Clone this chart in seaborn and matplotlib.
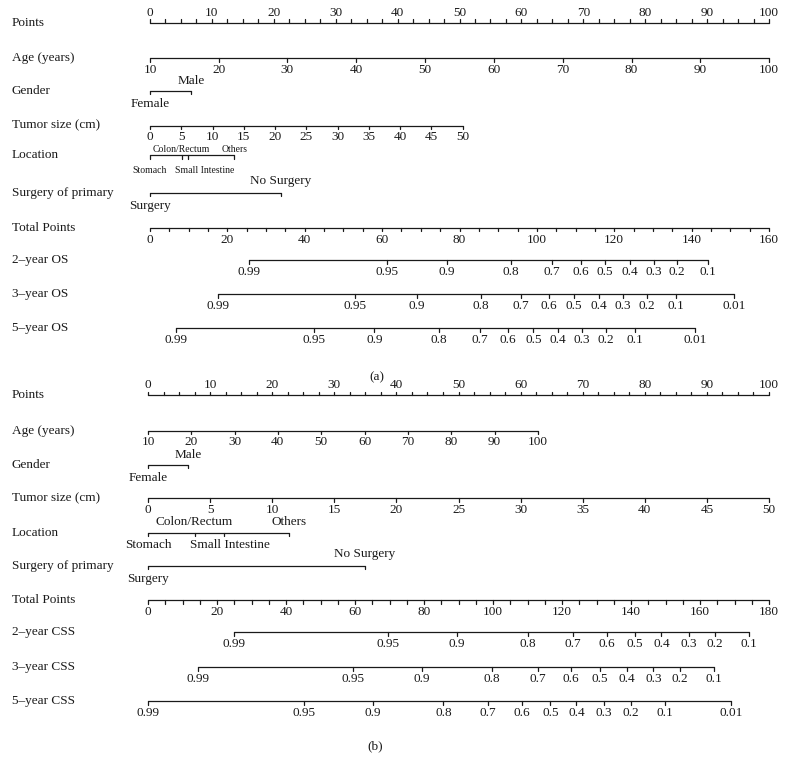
import matplotlib
matplotlib.use("Agg")
import matplotlib.pyplot as plt
import pandas as pd
import seaborn as sns

# ---- panel (a): overall survival ----
points_ticks = [0, 10, 20, 30, 40, 50, 60, 70, 80, 90, 100]
points_minor = [i * 2.5 for i in range(41)]

age_labels = [10, 20, 30, 40, 50, 60, 70, 80, 90, 100]
age_pts_a = [0, 11.1, 22.2, 33.3, 44.4, 55.6, 66.7, 77.8, 88.9, 100]
gender_labels = ["Female", "Male"]
gender_pts_a = [0, 6.6]
tumor_labels = [0, 5, 10, 15, 20, 25, 30, 35, 40, 45, 50]
tumor_pts_a = [0, 5.05, 10.1, 15.15, 20.2, 25.25, 30.3, 35.35, 40.4, 45.45, 50.5]
location_labels = ["Stomach", "Colon/Rectum", "Small Intestine", "Others"]
location_pts_a = [0, 5.1, 6.1, 13.6]
surgery_labels = ["Surgery", "No Surgery"]
surgery_pts_a = [0, 21.1]

total_ticks_a = [0, 20, 40, 60, 80, 100, 120, 140, 160]
total_max_a = 160

prob_10 = [0.99, 0.95, 0.9, 0.8, 0.7, 0.6, 0.5, 0.4, 0.3, 0.2, 0.1]
prob_01 = prob_10 + [0.01]
os2_total = [25.6, 61.2, 76.7, 93.2, 103.9, 111.3, 117.6, 124.0, 130.3, 136.2, 144.3]
os3_total = [17.6, 53.1, 68.9, 85.5, 95.8, 103.2, 109.5, 116.1, 122.2, 128.4, 135.9, 151.0]
os5_total = [6.8, 42.4, 58.0, 74.6, 85.3, 92.6, 99.1, 105.4, 111.7, 117.9, 125.3, 140.9]

# ---- panel (b): cancer-specific survival ----
age_pts_b = [0, 7.0, 14.0, 20.9, 27.9, 34.9, 41.9, 48.8, 55.8, 62.8]
gender_pts_b = [0, 6.5]
tumor_pts_b = [0, 10, 20, 30, 40, 50, 60, 70, 80, 90, 100]
location_pts_b = [0, 7.5, 12.2, 22.7]
surgery_pts_b = [0, 34.9]

total_ticks_b = [0, 20, 40, 60, 80, 100, 120, 140, 160, 180]
total_max_b = 180

css2_total = [24.8, 69.7, 89.6, 110.1, 123.1, 132.9, 141.1, 148.8, 156.7, 164.3, 174.2]
css3_total = [14.6, 59.5, 79.4, 99.8, 112.9, 122.6, 130.9, 138.7, 146.5, 154.1, 164.1]
css5_total = [0.1, 45.2, 65.2, 85.6, 98.5, 108.3, 116.6, 124.2, 132.2, 139.9, 149.9, 169.0]

sns.set_theme(style="white")
plt.rcParams["font.family"] = ["Liberation Serif", "DejaVu Serif"]

FS = 9.5
TICK = 3.5
INK = "#1a1a1a"

W, H = 786, 764
fig = plt.figure(figsize=(W / 100, H / 100), dpi=100)


def fmt(v):
    return str(v)


def add_seg(segs, x0, x1, y0, y1):
    uid = len(segs) // 2
    segs.append({"x": x0, "y": y0, "seg": uid})
    segs.append({"x": x1, "y": y1, "seg": uid})


def scale(ax, segs, y, pos, labels, where="below", tick="down", ticks=None,
          fs=FS, up=10.5, down=11.5, nudge=None):
    add_seg(segs, min(pos), max(pos), y, y)
    d = -TICK if tick == "up" else TICK
    for p in (ticks if ticks is not None else pos):
        add_seg(segs, p, p, y, y + d)
    for i, (p, lab) in enumerate(zip(pos, labels)):
        w = where[i] if isinstance(where, list) else where
        dy = -up if w == "above" else down
        dx = nudge[i] if nudge else 0
        ax.text(p + dx, y + dy, fmt(lab), ha="center", va="center",
                fontsize=fs, color=INK)


def panel(rect, ylim, x0_px, px_per_pt, rows, names, data, caption, cap_xy,
          small_loc=False):
    ax = fig.add_axes(rect)
    segs = []
    age_pts, gender_pts, tumor_pts, loc_pts, surg_pts, total_ticks, total_max, surv = data
    k = 100.0 / total_max

    scale(ax, segs, rows[0], points_ticks, points_ticks, where="above",
          tick="up", ticks=points_minor, up=10)
    scale(ax, segs, rows[1], age_pts, age_labels)
    scale(ax, segs, rows[2], gender_pts, gender_labels,
          where=["below", "above"], down=13, up=10)
    scale(ax, segs, rows[3], tumor_pts, tumor_labels)
    if small_loc:
        scale(ax, segs, rows[4], loc_pts, location_labels,
              where=["below", "above", "below", "above"], fs=7,
              up=5.5, down=15.5, nudge=[0, 0, 2.7, 0])
    else:
        scale(ax, segs, rows[4], loc_pts, location_labels,
              where=["below", "above", "below", "above"], up=11, down=12,
              nudge=[0, 0, 1.0, 0])
    scale(ax, segs, rows[5], surg_pts, surgery_labels,
          where=["below", "above"], up=11.5, down=13.5)
    tot_minor = [t * k for t in range(0, total_max + 1, 5)]
    scale(ax, segs, rows[6], [t * k for t in total_ticks], total_ticks,
          ticks=tot_minor, down=12)
    for r, (probs, totals) in zip(rows[7:], surv):
        scale(ax, segs, r, [t * k for t in totals], probs, down=12)

    df = pd.DataFrame(segs)
    sns.lineplot(data=df, x="x", y="y", units="seg", estimator=None,
                 sort=False, color=INK, lw=0.9, ax=ax, legend=False)

    for r, name in zip(rows, names):
        ax.text(12 / W, r, name, transform=ax.get_yaxis_transform(),
                ha="left", va="center", fontsize=FS, color=INK)
    ax.text(cap_xy[0], cap_xy[1], caption, ha="center", va="center",
            fontsize=FS, color=INK)

    ax.set_xlim(-x0_px / px_per_pt, (W - x0_px) / px_per_pt)
    ax.set_ylim(*ylim)
    ax.axis("off")
    return ax


names_a = ["Points", "Age (years)", "Gender", "Tumor size (cm)", "Location",
           "Surgery of primary", "Total Points", "2\u2013year OS", "3\u2013year OS",
           "5\u2013year OS"]
names_b = ["Points", "Age (years)", "Gender", "Tumor size (cm)", "Location",
           "Surgery of primary", "Total Points", "2\u2013year CSS", "3\u2013year CSS",
           "5\u2013year CSS"]

rows_a = [22.7, 58.3, 90.7, 125.7, 155.0, 192.7, 227.7, 260.0, 294.0, 328.3]
rows_b = [395.0, 430.7, 464.7, 498.3, 532.7, 565.7, 600.0, 632.3, 667.3, 701.0]

split = 385
panel([0, 1 - split / H, 1, split / H], (split, 0), 150, 6.19, rows_a, names_a,
      (age_pts_a, gender_pts_a, tumor_pts_a, location_pts_a, surgery_pts_a,
       total_ticks_a, total_max_a,
       [(prob_10, os2_total), (prob_01, os3_total), (prob_01, os5_total)]),
      "(a)", ((377 - 150) / 6.19, 377), small_loc=True)
panel([0, 0, 1, (H - split) / H], (H, split), 148, 6.21, rows_b, names_b,
      (age_pts_b, gender_pts_b, tumor_pts_b, location_pts_b, surgery_pts_b,
       total_ticks_b, total_max_b,
       [(prob_10, css2_total), (prob_10, css3_total), (prob_01, css5_total)]),
      "(b)", ((375 - 148) / 6.21, 746))

fig.savefig("out.png", dpi=100, facecolor="white")
